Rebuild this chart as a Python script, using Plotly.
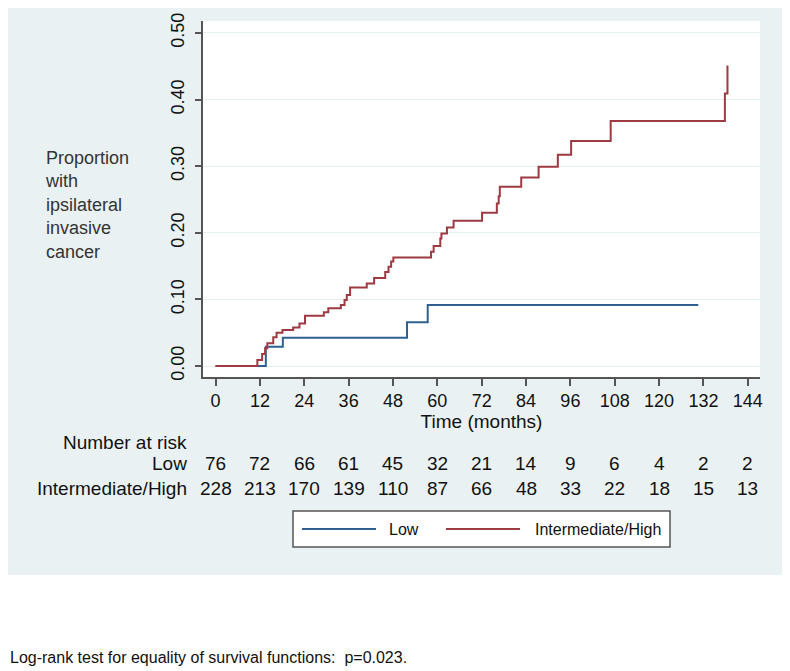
import plotly.graph_objects as go

# ---- data ----
series_names = ["Low", "Intermediate/High"]
series_colors = ["#2f6190", "#9e3a42"]

low_time = [0, 13.6, 18.2, 51.8, 57.4, 130.6]
low_prop = [0.0, 0.029, 0.0425, 0.0656, 0.0916, 0.0916]

ih_time = [0, 11.3, 12.6, 13.4, 14.0, 15.6, 16.5, 18.1, 21.0, 22.7, 24.2, 29.3, 30.5,
           33.9, 34.9, 35.5, 36.4, 40.9, 42.9, 45.9, 46.8, 47.5, 48.1, 58.3, 59.0,
           60.8, 61.1, 62.6, 64.4, 72.1, 76.1, 76.6, 76.9, 82.7, 87.4, 92.6, 96.2,
           106.9, 137.8, 138.5]
ih_prop = [0.0, 0.009, 0.018, 0.0265, 0.034, 0.043, 0.050, 0.054, 0.058, 0.064, 0.0755,
           0.0806, 0.0866, 0.0916, 0.099, 0.1066, 0.118, 0.124, 0.132, 0.141, 0.149,
           0.157, 0.163, 0.1716, 0.180, 0.1916, 0.199, 0.208, 0.218, 0.230, 0.244,
           0.255, 0.269, 0.283, 0.299, 0.317, 0.338, 0.368, 0.409, 0.451]

risk_times = [0, 12, 24, 36, 48, 60, 72, 84, 96, 108, 120, 132, 144]
risk_low = [76, 72, 66, 61, 45, 32, 21, 14, 9, 6, 4, 2, 2]
risk_ih = [228, 213, 170, 139, 110, 87, 66, 48, 33, 22, 18, 15, 13]

y_ticks = [0.0, 0.1, 0.2, 0.3, 0.4, 0.5]
x_ticks = risk_times

y_title_lines = ["Proportion", "with", "ipsilateral", "invasive", "cancer"]
x_title = "Time (months)"
footnote = "Log-rank test for equality of survival functions:  p=0.023."

FONT = "Liberation Sans, Arial, Helvetica, sans-serif"
BG = "#eaf1f3"

# ---- layout geometry (page pixels; the page body has an 8px margin) ----
OFF = 8
W, H = 790 - OFF, 671 - OFF
PLOT_L, PLOT_R, PLOT_T, PLOT_B = 203, 760, 21, 377   # page coordinates of plot area
L, R, T, B = PLOT_L - OFF, W - (PLOT_R - OFF), PLOT_T - OFF, H - (PLOT_B - OFF)
PW, PH = W - L - R, H - T - B


def px_x(px):
    return (px - PLOT_L) / PW


def px_y(py):
    return (PLOT_B - py) / PH


fig = go.Figure()

for name, color, t, p in [(series_names[0], series_colors[0], low_time, low_prop),
                          (series_names[1], series_colors[1], ih_time, ih_prop)]:
    fig.add_trace(go.Scatter(x=t, y=p, mode="lines", name=name,
                             line=dict(color=color, width=2, shape="hv"),
                             showlegend=False, hoverinfo="x+y+name"))

shapes = [
    # grey graph region
    dict(type="rect", xref="paper", yref="paper", x0=px_x(0), x1=px_x(785),
         y0=px_y(575), y1=px_y(0), fillcolor=BG, line=dict(width=0), layer="below"),
    # white plot region
    dict(type="rect", xref="paper", yref="paper", x0=0, x1=1, y0=0, y1=1,
         fillcolor="white", line=dict(width=0), layer="below"),
    # legend box
    dict(type="rect", xref="paper", yref="paper", x0=px_x(293), x1=px_x(670),
         y0=px_y(547), y1=px_y(511), fillcolor="white",
         line=dict(color="#555555", width=1.5), layer="above"),
]
annotations = []

# legend entries
leg_y = px_y(529)
for (lx0, lx1, tx), name, color in zip([(302, 376, 387), (446, 520, 533)],
                                       series_names, series_colors):
    shapes.append(dict(type="line", xref="paper", yref="paper", x0=px_x(lx0), x1=px_x(lx1),
                       y0=leg_y, y1=leg_y, line=dict(color=color, width=2)))
    annotations.append(dict(xref="paper", yref="paper", x=px_x(tx), y=leg_y, text=name,
                            showarrow=False, xanchor="left", yanchor="middle",
                            font=dict(size=16, color="#111111", family=FONT)))

# y title (horizontal, multi-line)
annotations.append(dict(xref="paper", yref="paper", x=px_x(43), y=px_y(146),
                        text="<br>".join(y_title_lines), showarrow=False,
                        xanchor="left", yanchor="top", align="left",
                        font=dict(size=18, color="#333333", family=FONT)))

# number at risk table
annotations.append(dict(xref="paper", yref="paper", x=px_x(189), y=px_y(442),
                        text="Number at risk", showarrow=False, xanchor="right",
                        yanchor="middle", font=dict(size=19, color="#111111", family=FONT)))
for row_name, vals, py in [(series_names[0], risk_low, 464), (series_names[1], risk_ih, 488)]:
    annotations.append(dict(xref="paper", yref="paper", x=px_x(189), y=px_y(py),
                            text=row_name, showarrow=False, xanchor="right",
                            yanchor="middle", font=dict(size=19, color="#111111", family=FONT)))
    for t, v in zip(risk_times, vals):
        annotations.append(dict(xref="x", yref="paper", x=t, y=px_y(py), text=str(v),
                                showarrow=False, xanchor="center", yanchor="middle",
                                font=dict(size=19, color="#111111", family=FONT)))

# footnote below the graph region
annotations.append(dict(xref="paper", yref="paper", x=px_x(OFF + 1), y=px_y(657),
                        text=footnote, showarrow=False, xanchor="left", yanchor="middle",
                        align="left", borderpad=0,
                        font=dict(size=16, color="#111111", family=FONT)))

fig.update_layout(
    width=W, height=H,
    margin=dict(l=L, r=R, t=T, b=B, pad=0, autoexpand=False),
    paper_bgcolor="white", plot_bgcolor="white",
    font=dict(family=FONT, color="#111111"),
    shapes=shapes, annotations=annotations,
    showlegend=False,
)

fig.update_xaxes(range=[-3.4, 147.3], tickmode="array", tickvals=x_ticks,
                 ticktext=[str(v) for v in x_ticks], showgrid=False, zeroline=False,
                 showline=True, linecolor="#555555", linewidth=1.5,
                 ticks="outside", ticklen=7, tickwidth=1.5, tickcolor="#555555",
                 tickfont=dict(size=18, color="#111111", family=FONT),
                 title=dict(text=x_title, font=dict(size=19, color="#111111", family=FONT),
                            standoff=0))

fig.update_yaxes(range=[-0.0165, 0.518], tickmode="array", tickvals=y_ticks,
                 ticktext=["%.2f" % v for v in y_ticks], tickangle=-90,
                 showgrid=True, gridcolor="#e6eff2", gridwidth=1.2, zeroline=False,
                 showline=True, linecolor="#555555", linewidth=1.5,
                 ticks="outside", ticklen=6, tickwidth=1.5, tickcolor="#555555",
                 ticklabelstandoff=4,
                 tickfont=dict(size=18, color="#111111", family=FONT))

fig.write_html("out.html")
